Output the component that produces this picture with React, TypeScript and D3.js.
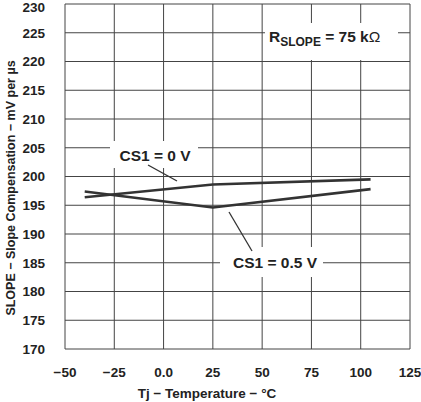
import * as d3 from 'd3';

const temps = [-40, 25, 105];
const cs1Zero = [196.4, 198.6, 199.5];
const cs1Half = [197.4, 194.6, 197.8];
const xTicks = [-50, -25, 0, 25, 50, 75, 100, 125];
const xTickLabels = ['\u221250', '\u221225', '0.0', '25', '50', '75', '100', '125'];
const yTicks = [170, 175, 180, 185, 190, 195, 200, 205, 210, 215, 220, 225, 230];

const W = 421;
const H = 402;
const margin = { top: 4, right: 11, bottom: 53, left: 65 };
const font = '"Liberation Sans", Arial, Helvetica, sans-serif';
const ink = '#333';

export default function App() {
  const x = d3.scaleLinear().domain([-50, 125]).range([margin.left, W - margin.right]);
  const y = d3.scaleLinear().domain([170, 230]).range([H - margin.bottom, margin.top]);

  const line = d3
    .line<number>()
    .x((_, i) => x(temps[i]))
    .y((d) => y(d));

  return (
    <div style={{ position: 'fixed', left: 0, top: 0 }}>
      <svg width={W} height={H} fontFamily={font} fontWeight="bold" fill="#222">
        <rect width={W} height={H} fill="#fff" />

        {/* grid */}
        {xTicks.map((t) => (
          <line key={'gx' + t} x1={x(t)} x2={x(t)} y1={y(170)} y2={y(230)} stroke="#444" strokeWidth={1} />
        ))}
        {yTicks.map((t) => (
          <line key={'gy' + t} x1={x(-50)} x2={x(125)} y1={y(t)} y2={y(t)} stroke="#444" strokeWidth={1} />
        ))}

        {/* tick labels */}
        {yTicks.map((t) => (
          <text key={'ty' + t} x={45} y={Math.max(y(t), 7.5)} dy="0.36em" textAnchor="end" fontSize={13.5}>
            {t}
          </text>
        ))}
        {xTicks.map((t, i) => (
          <text key={'tx' + t} x={x(t)} y={372} dy="0.36em" textAnchor="middle" fontSize={13.5}>
            {xTickLabels[i]}
          </text>
        ))}

        {/* axis titles */}
        <text x={207} y={393} dy="0.36em" textAnchor="middle" fontSize={13.5}>
          Tj {'\u2212'} Temperature {'\u2212'} °C
        </text>
        <text
          transform={`translate(10,${188}) rotate(-90)`}
          dy="0.36em"
          textAnchor="middle"
          fontSize={12.5}
        >
          SLOPE {'\u2212'} Slope Compensation {'\u2212'} mV per µs
        </text>

        {/* series */}
        <path d={line(cs1Zero) ?? ''} fill="none" stroke={ink} strokeWidth={2.6} />
        <path d={line(cs1Half) ?? ''} fill="none" stroke={ink} strokeWidth={2.6} />

        {/* annotations */}
        <rect x={110} y={141} width={88} height={27} fill="#fff" />
        <text x={155} y={155} dy="0.36em" textAnchor="middle" fontSize={15.5}>
          CS1 = 0 V
        </text>
        <line x1={148} y1={165} x2={177} y2={181} stroke={ink} strokeWidth={1.3} />

        <rect x={220} y={247} width={103} height={30} fill="#fff" />
        <text x={275} y={262} dy="0.36em" textAnchor="middle" fontSize={15.5}>
          CS1 = 0.5 V
        </text>
        <line x1={229} y1={212} x2={252} y2={251} stroke={ink} strokeWidth={1.3} />

        <rect x={265} y={23} width={133} height={37} fill="#fff" />
        <text x={269} y={42} fontSize={15.5}>
          R
          <tspan fontSize={12} dy={4}>SLOPE</tspan>
          <tspan dy={-4}> = 75 k</tspan>
          <tspan fontWeight="normal">Ω</tspan>
        </text>
      </svg>
    </div>
  );
}
